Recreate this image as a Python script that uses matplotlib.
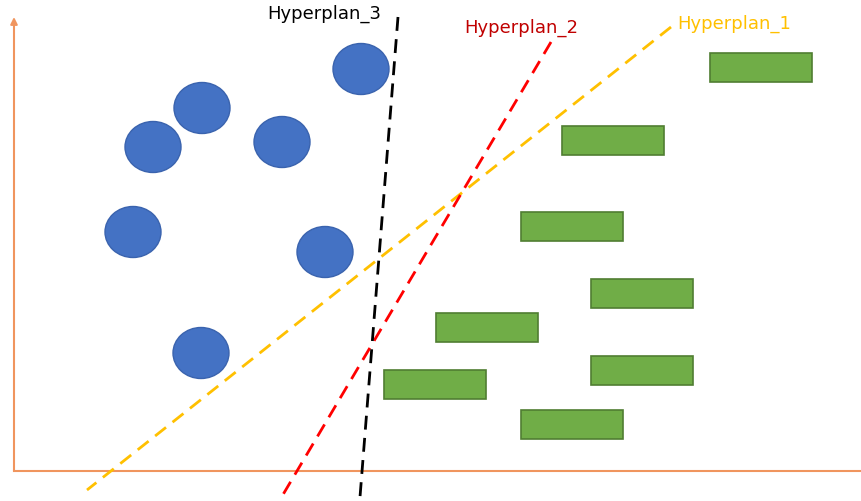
import matplotlib.pyplot as plt
from matplotlib.patches import Ellipse, Rectangle

# blue class: ellipse centres (pixel space of the original drawing)
blue_x = [361, 202, 153, 282, 133, 325, 201]
blue_y = [69, 108, 147, 142, 232, 252, 353]

# green class: rectangle left/top corners
green_x = [710, 562, 521, 591, 436, 384, 591, 521]
green_y = [53, 126, 212, 279, 313, 370, 356, 410]

# hyperplanes: end points (x0, y0, x1, y1)
hyper_names = ["Hyperplan_1", "Hyperplan_2", "Hyperplan_3"]
hyper_lines = [(671, 27, 87, 490), (551, 42, 281, 498), (398, 17, 360, 497)]
hyper_colors = ["#FFC000", "#FF0000", "#000000"]
label_colors = ["#FFC000", "#C00000", "#000000"]
label_pos = [(677, 24), (464, 28), (267, 14)]

fig = plt.figure(figsize=(8.61, 5.01), dpi=100)
ax = fig.add_axes([0, 0, 1, 1])
ax.set_xlim(0, 861)
ax.set_ylim(501, 0)
ax.axis("off")

axis_col = "#F0955E"
ax.plot([14, 861], [471, 471], color=axis_col, lw=1.5, zorder=1)
ax.annotate("", xy=(14, 17), xytext=(14, 471),
            arrowprops=dict(arrowstyle="-|>", color=axis_col, lw=1.5,
                            mutation_scale=10, shrinkA=0, shrinkB=0))

for x, y in zip(blue_x, blue_y):
    ax.add_patch(Ellipse((x, y), 56, 51, facecolor="#4472C4",
                         edgecolor="#3A63AE", lw=1, zorder=2))

for x, y in zip(green_x, green_y):
    ax.add_patch(Rectangle((x, y), 102, 29, facecolor="#70AD47",
                           edgecolor="#507E32", lw=1.2, zorder=2))

for (x0, y0, x1, y1), c in zip(hyper_lines, hyper_colors):
    ax.plot([x0, x1], [y0, y1], color=c, lw=2, dashes=(5, 3), zorder=3)

for name, (x, y), c in zip(hyper_names, label_pos, label_colors):
    ax.text(x, y, name, color=c, fontsize=13, va="center", ha="left",
            family="DejaVu Sans")

fig.savefig("out.png", dpi=100)
